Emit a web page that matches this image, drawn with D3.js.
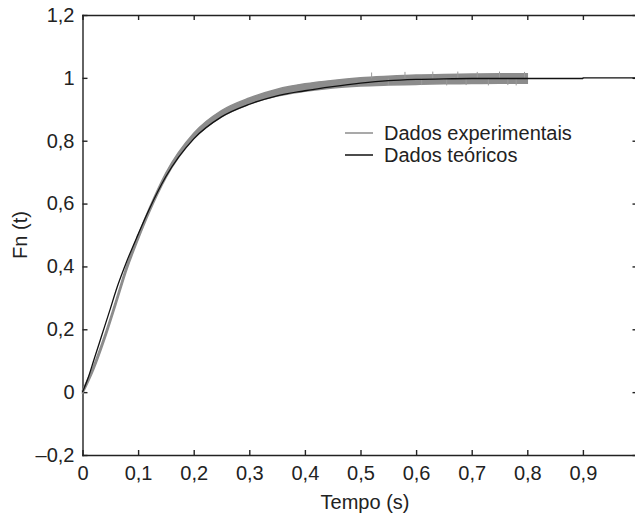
<!DOCTYPE html>
<meta charset="utf-8">
<style>
	body { margin: 0; background: #fff; }
	svg { display: block; font-family: "Liberation Sans", Arial, sans-serif; }
	.axis path, .axis line { stroke: #222; stroke-width: 1.4px; }
	.axis text { font-size: 20px; fill: #222; }
	.lbl { font-size: 20px; fill: #222; }
</style>
<svg width="635" height="519"></svg>
<script src="https://d3js.org/d3.v7.min.js"></script>
<script>
	// curva teórica
	var theoT = [0, 0.01, 0.02, 0.03, 0.04, 0.05, 0.06, 0.08, 0.10, 0.12, 0.15, 0.20, 0.25, 0.30, 0.35, 0.40, 0.45, 0.50, 0.55, 0.60, 0.65, 0.70, 0.80, 0.90, 0.9001, 1.0]
	var theoF = [0, 0.045, 0.10, 0.155, 0.21, 0.265, 0.322, 0.418, 0.502, 0.582, 0.686, 0.806, 0.876, 0.916, 0.943, 0.959, 0.972, 0.983, 0.991, 0.995, 0.997, 0.998, 0.998, 0.998, 1.0, 1.0]

	// dados experimentais (centro da faixa e meia largura)
	var expT = [0, 0.02, 0.04, 0.06, 0.08, 0.10, 0.12, 0.15, 0.20, 0.25, 0.30, 0.35, 0.40, 0.45, 0.50, 0.55, 0.60, 0.65, 0.70, 0.75, 0.80]
	var expF = [0, 0.078, 0.175, 0.285, 0.398, 0.492, 0.578, 0.69, 0.815, 0.886, 0.926, 0.953, 0.969, 0.98, 0.987, 0.991, 0.994, 0.996, 0.997, 0.998, 0.998]
	var expSpread = [0.006, 0.007, 0.007, 0.007, 0.007, 0.007, 0.007, 0.008, 0.009, 0.01, 0.01, 0.011, 0.012, 0.012, 0.013, 0.014, 0.015, 0.015, 0.015, 0.015, 0.015]

	// ruído (picos) no fim do ensaio
	var spikeT = [0.52, 0.55, 0.58, 0.61, 0.63, 0.655, 0.675, 0.69, 0.71, 0.73, 0.75, 0.765, 0.78, 0.795]
	var spikeF = [1.017, 0.978, 1.019, 0.977, 1.02, 0.976, 1.02, 0.977, 1.019, 0.976, 1.02, 0.977, 0.976, 1.019]

	var xTicks = [0, 0.1, 0.2, 0.3, 0.4, 0.5, 0.6, 0.7, 0.8, 0.9, 1]
	var yTicks = [-0.2, 0, 0.2, 0.4, 0.6, 0.8, 1, 1.2]
	var legendNames = ['Dados experimentais', 'Dados teóricos']

	var svg = d3.select('svg')

	var x = d3.scaleLinear().domain([0, 1]).range([82.5, 638.5]),
		y = d3.scaleLinear().domain([-0.2, 1.2]).range([455, 15])

	var fmt = function (v) {
		if (v === 0) return '0'
		return (v < 0 ? '\u2013' : '') + String(Math.abs(v)).replace('.', ',')
	}

	// eixos (ticks para dentro)
	svg.append('g').attr('class', 'axis')
		.attr('transform', 'translate(0,' + y(-0.2) + ')')
		.call(d3.axisBottom(x).tickValues(xTicks).tickFormat(v => v < 1 ? fmt(v) : '').tickSizeInner(-5).tickSizeOuter(0).tickPadding(11))
	svg.append('g').attr('class', 'axis')
		.attr('transform', 'translate(0,' + y(1.2) + ')')
		.call(d3.axisTop(x).tickValues(xTicks).tickFormat('').tickSizeInner(-5).tickSizeOuter(0))
	svg.append('g').attr('class', 'axis')
		.attr('transform', 'translate(' + x(0) + ',0)')
		.call(d3.axisLeft(y).tickValues(yTicks).tickFormat(fmt).tickSizeInner(-5).tickSizeOuter(0).tickPadding(8))
	svg.append('g').attr('class', 'axis')
		.attr('transform', 'translate(' + x(1) + ',0)')
		.call(d3.axisRight(y).tickValues(yTicks).tickFormat('').tickSizeInner(-6).tickSizeOuter(0))
	svg.selectAll('.axis .domain').attr('stroke-linecap', 'square')

	// faixa experimental
	var exp = expT.map((t, i) => ({ t: t, f: expF[i], s: expSpread[i] }))
	var band = d3.area()
		.x(d => x(d.t))
		.y0(d => y(d.f - d.s))
		.y1(d => y(d.f + d.s))
		.curve(d3.curveMonotoneX)
	svg.append('path')
		.attr('d', band(exp))
		.attr('fill', '#8c8c8c')
		.attr('stroke', '#8c8c8c')
		.attr('stroke-width', 1.5)

	svg.append('g').selectAll('line')
		.data(spikeT.map((t, i) => ({ t: t, f: spikeF[i] })))
		.join('line')
		.attr('x1', d => x(d.t)).attr('x2', d => x(d.t))
		.attr('y1', y(0.998)).attr('y2', d => y(d.f))
		.attr('stroke', '#9a9a9a')
		.attr('stroke-width', 1)

	// curva teórica
	var theo = theoT.map((t, i) => ({ t: t, f: theoF[i] }))
	var line = d3.line()
		.x(d => x(d.t))
		.y(d => y(d.f))
		.curve(d3.curveMonotoneX)
	svg.append('path')
		.attr('d', line(theo))
		.attr('fill', 'none')
		.attr('stroke', '#111')
		.attr('stroke-width', 1.3)

	// legenda
	var leg = svg.append('g').attr('transform', 'translate(345,133)')
	legendNames.forEach(function (name, i) {
		var g = leg.append('g').attr('transform', 'translate(0,' + i * 22 + ')')
		g.append('line')
			.attr('x1', 0).attr('x2', 28)
			.attr('stroke', i === 0 ? '#8c8c8c' : '#111')
			.attr('stroke-width', 1.5)
		g.append('text')
			.attr('class', 'lbl')
			.attr('x', 39).attr('y', 7)
			.text(name)
	})

	// rótulos dos eixos
	svg.append('text')
		.attr('class', 'lbl')
		.attr('x', 365).attr('y', 509)
		.attr('text-anchor', 'middle')
		.text('Tempo (s)')
	svg.append('text')
		.attr('class', 'lbl')
		.attr('transform', 'translate(27,235) rotate(-90)')
		.attr('text-anchor', 'middle')
		.text('Fn (t)')
</script>
